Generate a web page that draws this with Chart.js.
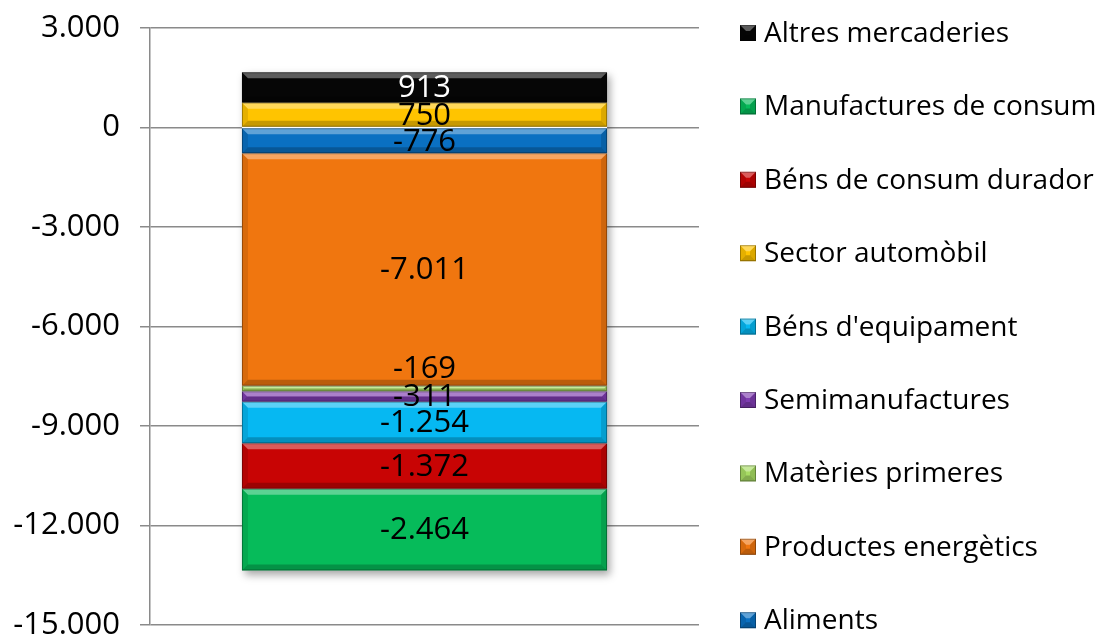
<!DOCTYPE html>
<html>
<head>
<meta charset="utf-8">
<script src="https://cdn.jsdelivr.net/npm/chart.js@4.4.0/dist/chart.umd.min.js"></script>
<style>
html, body { margin: 0; padding: 0; background: #fff; }
#wrap { width: 1109px; height: 635px; }
</style>
</head>
<body>
<div id="wrap"><canvas id="chart"></canvas></div>
<script>
// data (stack order, bottom of legend first)
const categories = [''];
const seriesNames = ['Aliments', 'Productes energètics', 'Matèries primeres', 'Semimanufactures',
    "Béns d'equipament", 'Sector automòbil', 'Béns de consum durador', 'Manufactures de consum', 'Altres mercaderies'];
const seriesValues = [-776, -7011, -169, -311, -1254, 750, -1372, -2464, 913];
const yTicks = [3000, 0, -3000, -6000, -9000, -12000, -15000];

const colors = ['#0a70c2', '#f0760f', '#a8dc64', '#7e3cb0', '#06b8f2', '#ffc400', '#c80404', '#06bb5a', '#060606'];
const labelColors = { 'Altres mercaderies': '#fff' };
const labelShift = { 'Matèries primeres': -20 };

const FONT = "'Open Sans', sans-serif";

function fmt(v) {
    const s = String(Math.abs(v)).replace(/\B(?=(\d{3})+(?!\d))/g, '.');
    return (v < 0 ? '-' : '') + s;
}

function bevel(ctx, l, t, r, b, color) {
    const h = b - t;
    const d = Math.min(6, h / 2);
    ctx.save();
    // top light
    ctx.fillStyle = 'rgba(255,255,255,0.35)';
    ctx.beginPath();
    ctx.moveTo(l, t); ctx.lineTo(r, t); ctx.lineTo(r - d, t + d); ctx.lineTo(l + d, t + d); ctx.closePath(); ctx.fill();
    // bottom dark
    ctx.fillStyle = 'rgba(0,0,0,0.22)';
    ctx.beginPath();
    ctx.moveTo(l, b); ctx.lineTo(r, b); ctx.lineTo(r - d, b - d); ctx.lineTo(l + d, b - d); ctx.closePath(); ctx.fill();
    // left
    ctx.fillStyle = 'rgba(0,0,0,0.10)';
    ctx.beginPath();
    ctx.moveTo(l, t); ctx.lineTo(l + d, t + d); ctx.lineTo(l + d, b - d); ctx.lineTo(l, b); ctx.closePath(); ctx.fill();
    // right
    ctx.fillStyle = 'rgba(0,0,0,0.14)';
    ctx.beginPath();
    ctx.moveTo(r, t); ctx.lineTo(r - d, t + d); ctx.lineTo(r - d, b - d); ctx.lineTo(r, b); ctx.closePath(); ctx.fill();
    ctx.strokeStyle = 'rgba(0,0,0,0.3)';
    ctx.lineWidth = 1;
    ctx.strokeRect(l + 0.5, t + 0.5, r - l - 1, b - t - 1);
    ctx.restore();
}

const barDecor = {
    id: 'barDecor',
    beforeDatasetsDraw(chart) {
        const ctx = chart.ctx;
        let l = Infinity, r = -Infinity, t = Infinity, b = -Infinity;
        chart.data.datasets.forEach((ds, i) => {
            chart.getDatasetMeta(i).data.forEach(el => {
                l = Math.min(l, el.x - el.width / 2); r = Math.max(r, el.x + el.width / 2);
                t = Math.min(t, el.y, el.base); b = Math.max(b, el.y, el.base);
            });
        });
        ctx.save();
        ctx.shadowColor = 'rgba(0,0,0,0.35)';
        ctx.shadowBlur = 8;
        ctx.shadowOffsetX = 3;
        ctx.shadowOffsetY = 4;
        ctx.fillStyle = '#fff';
        ctx.fillRect(l, t, r - l, b - t);
        ctx.restore();
    },
    afterDatasetsDraw(chart) {
        const ctx = chart.ctx;
        chart.data.datasets.forEach((ds, i) => {
            chart.getDatasetMeta(i).data.forEach(el => {
                bevel(ctx, el.x - el.width / 2, Math.min(el.y, el.base), el.x + el.width / 2, Math.max(el.y, el.base), ds.backgroundColor);
            });
        });
        ctx.save();
        ctx.font = '31px ' + FONT;
        ctx.textAlign = 'center';
        ctx.textBaseline = 'middle';
        chart.data.datasets.forEach((ds, i) => {
            chart.getDatasetMeta(i).data.forEach((el, j) => {
                const cy = (el.y + el.base) / 2 + (labelShift[ds.label] || 0);
                ctx.fillStyle = labelColors[ds.label] || '#000';
                ctx.fillText(fmt(ds.data[j]), el.x, cy + 1);
            });
        });
        ctx.restore();
    },
    afterDraw(chart) {
        // legend on the right, reversed order
        const ctx = chart.ctx;
        const ds = chart.data.datasets;
        const x0 = 740, y0 = 33, step = 73.4, sz = 16;
        ctx.save();
        ctx.font = '28px ' + FONT;
        ctx.textBaseline = 'middle';
        ctx.textAlign = 'left';
        for (let k = 0; k < ds.length; k++) {
            const d = ds[ds.length - 1 - k];
            const cy = y0 + k * step;
            ctx.fillStyle = d.backgroundColor;
            ctx.fillRect(x0, cy - sz / 2, sz, sz);
            bevel(ctx, x0, cy - sz / 2, x0 + sz, cy + sz / 2, d.backgroundColor);
            ctx.fillStyle = '#000';
            ctx.fillText(d.label, x0 + 24, cy + 1);
        }
        ctx.restore();
    }
};

const datasets = seriesNames.map((name, i) => ({
    label: name,
    data: [seriesValues[i]],
    backgroundColor: colors[i],
    borderWidth: 0,
    categoryPercentage: 0.665,
    barPercentage: 1
}));

new Chart(document.getElementById('chart').getContext('2d'), {
    type: 'bar',
    data: { labels: categories, datasets: datasets },
    options: {
        responsive: true,
        maintainAspectRatio: false,
        animation: false,
        layout: { padding: { left: 0, right: 410, top: 28, bottom: 10 } },
        plugins: { legend: { display: false }, tooltip: { enabled: false } },
        scales: {
            x: { stacked: true, display: false },
            y: {
                stacked: true,
                min: -15000,
                max: 3000,
                afterFit(scale) { scale.width = 150; scale.paddingTop = 0; scale.paddingBottom = 0; },
                afterBuildTicks(scale) { scale.ticks = yTicks.map(v => ({ value: v })); },
                ticks: {
                    color: '#000',
                    padding: 20,
                    font: { family: FONT, size: 31 },
                    callback: v => fmt(v)
                },
                grid: { color: '#8a8a8a', lineWidth: 1.5, tickLength: 10 },
                border: { color: '#8a8a8a', width: 1.5 }
            }
        }
    },
    plugins: [barDecor]
});
</script>
</body>
</html>
